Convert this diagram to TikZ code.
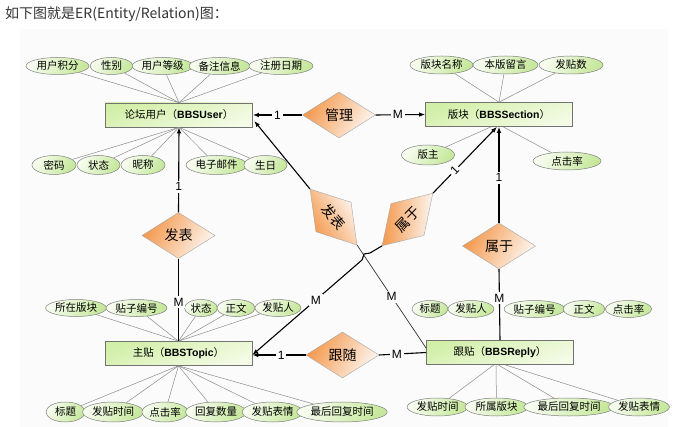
\documentclass[tikz,border=0pt]{standalone}
\usepackage{fontspec}
\setmainfont{Noto Sans CJK SC}
\newfontfamily\latinfont{Liberation Sans}
\usetikzlibrary{shapes.geometric,arrows.meta,calc}
\definecolor{bgc}{HTML}{FBFBFB}
\definecolor{entTop}{HTML}{D2EFA8}
\definecolor{entBot}{HTML}{F4FBE6}
\definecolor{attTop}{HTML}{F6FCEE}
\definecolor{attBot}{HTML}{C6E89C}
\definecolor{orA}{HTML}{F4984C}
\definecolor{orB}{HTML}{FDF6F0}
\newcommand{\enb}[1]{{\latinfont\bfseries #1}}
\begin{document}
\begin{tikzpicture}[x=1pt,y=-1pt,
  entity/.style={rectangle,draw=black!55,line width=0.6pt,minimum width=147pt,minimum height=24pt,inner sep=0pt,
    top color=entTop,bottom color=entBot,shading angle=20,font=\fontsize{10.5}{12}\selectfont},
  relbox/.style={diamond,draw=black!35,line width=0.4pt,minimum width=73pt,minimum height=46pt,inner sep=0pt,
    top color=orA,bottom color=orB,shading angle=60,font=\fontsize{14}{16}\selectfont},
  attr/.style={ellipse,draw=black!50,line width=0.5pt,minimum height=17pt,inner sep=0.5pt,
    top color=attTop,bottom color=attBot,shading angle=60,font=\fontsize{10.5}{11}\selectfont},
  aline/.style={draw=black!45,line width=0.5pt},
  conn/.style={draw=black,line width=1.1pt},
  thinconn/.style={draw=black!80,line width=0.7pt},
  arr/.style={-{Latex[length=6pt,width=4.5pt]}},
  lbl/.style={fill=bgc,inner sep=1.8pt,font={\latinfont\fontsize{12}{13}\selectfont}}
]
\useasboundingbox (0,0) rectangle (676,427);
\fill[bgc] (20,29) rectangle (668,427);
\node[anchor=west,text=black!80,font=\fontsize{14}{16}\selectfont,inner sep=0pt] (title) at (5,14) {如下图就是ER(Entity/Relation)图：};

% entities
\node[entity] (user) at (179,115) {论坛用户（\enb{BBSUser}）};
\node[entity] (section) at (499,114.5) {版块（\enb{BBSSection}）};
\node[entity] (topic) at (178.5,353.5) {主贴（\enb{BBSTopic}）};
\node[entity] (reply) at (500,352.5) {跟贴（\enb{BBSReply}）};

% relationships
\node[relbox] (guanli) at (339,115) {管理};
\node[relbox] (fabiao1) at (178.5,235.5) {发表};
\node[relbox] (shuyu1) at (499,246) {属于};
\node[relbox] (gensui) at (342.5,355) {跟随};
\node[relbox,rotate=-50,shading angle=120] (fabiao2) at (333.5,217) {发表};
\node[relbox,rotate=46,shading angle=89] (shuyu2) at (407.5,219.5) {属于};

% attributes of BBSUser
\node[attr,minimum width=63pt] (u1) at (57.5,66) {用户积分};
\node[attr,minimum width=43pt] (u2) at (111.5,66) {性别};
\node[attr,minimum width=55pt] (u3) at (162.5,66) {用户等级};
\node[attr,minimum width=57pt] (u4) at (219.5,66) {备注信息};
\node[attr,minimum width=64pt] (u5) at (281,66) {注册日期};
\node[attr,minimum width=44pt,minimum height=19pt] (u6) at (54,165) {密码};
\node[attr,minimum width=43pt,minimum height=19pt] (u7) at (98.5,165) {状态};
\node[attr,minimum width=44pt,minimum height=19pt] (u8) at (143,165) {昵称};
\node[attr,minimum width=53pt,minimum height=19pt] (u9) at (216.5,165) {电子邮件};
\node[attr,minimum width=43pt,minimum height=19pt] (u10) at (265.5,165) {生日};

% attributes of BBSSection
\node[attr,minimum width=63pt,minimum height=18pt] (s1) at (441.5,65) {版块名称};
\node[attr,minimum width=65pt,minimum height=18pt] (s2) at (505.5,65) {本版留言};
\node[attr,minimum width=64pt,minimum height=18pt] (s3) at (571,65) {发贴数};
\node[attr,minimum width=53pt,minimum height=20pt] (s4) at (428,155) {版主};
\node[attr,minimum width=68pt,minimum height=18pt] (s5) at (567,161) {点击率};

% attributes of BBSTopic
\node[attr,minimum width=58pt] (t1) at (76,308) {所在版块};
\node[attr,minimum width=61pt] (t2) at (136.5,308) {贴子编号};
\node[attr,minimum width=33pt] (t3) at (201,308) {状态};
\node[attr,minimum width=38pt] (t4) at (236,308) {正文};
\node[attr,minimum width=44pt] (t5) at (278,308) {发贴人};
\node[attr,minimum width=39pt,minimum height=20pt] (t6) at (65.5,412) {标题};
\node[attr,minimum width=54pt,minimum height=20pt] (t7) at (113,412) {发贴时间};
\node[attr,minimum width=46pt,minimum height=20pt] (t8) at (165,412) {点击率};
\node[attr,minimum width=54pt,minimum height=20pt] (t9) at (216,412) {回复数量};
\node[attr,minimum width=55pt,minimum height=20pt] (t10) at (272.5,412) {发贴表情};
\node[attr,minimum width=80pt,minimum height=20pt] (t11) at (342,412) {最后回复时间};

% attributes of BBSReply
\node[attr,minimum width=36pt] (r1) at (430,309) {标题};
\node[attr,minimum width=44pt] (r2) at (471,309) {发贴人};
\node[attr,minimum width=57pt] (r3) at (534.5,309) {贴子编号};
\node[attr,minimum width=42pt] (r4) at (584,309) {正文};
\node[attr,minimum width=45pt] (r5) at (628.5,309) {点击率};
\node[attr,minimum width=55pt,minimum height=18pt] (r6) at (437.5,407) {发贴时间};
\node[attr,minimum width=63pt,minimum height=18pt] (r7) at (496.5,407) {所属版块};
\node[attr,minimum width=82pt,minimum height=18pt] (r8) at (569,407) {最后回复时间};
\node[attr,minimum width=58pt,minimum height=18pt] (r9) at (639,407) {发贴表情};

% attribute lines
\foreach \n in {u1,u2,u3,u4,u5} \draw[aline] (user.north) -- (\n);
\foreach \n in {u6,u7,u8,u9,u10} \draw[aline] (user.south) -- (\n);
\foreach \n in {s1,s2,s3} \draw[aline] (section.north) -- (\n);
\draw[aline] ($(section.south)+(-8,0)$) -- (s4);
\draw[aline] ($(section.south)+(4,0)$) -- (s5);
\foreach \n in {t1,t2,t3,t4,t5} \draw[aline] (topic.north) -- (\n);
\foreach \n in {t6,t7,t8,t9,t10,t11} \draw[aline] (topic.south) -- (\n);
\draw[aline] ($(reply.south)+(-6,0)$) -- (r6);
\draw[aline] ($(reply.south)+(-4,0)$) -- (r7);
\draw[aline] ($(reply.south)+(-2,0)$) -- (r8);
\draw[aline] ($(reply.south)+(5,0)$) -- (r9);

% relationship connectors
\draw[conn,arr] (guanli.west) -- node[lbl,pos=0.5]{1} (user.east);
\draw[conn,arr] (guanli.east) -- node[lbl,pos=0.45]{M} (section.west);
\draw[conn,arr] (fabiao1.north) -- node[lbl,pos=0.30]{1} (user.south);
\draw[conn] (fabiao1.south) -- node[lbl,pos=0.53]{M} (topic.north);
\draw[conn,arr] (shuyu1.north) -- node[lbl,pos=0.47]{1} (section.south);
\draw[conn] (shuyu1.south) -- node[lbl,pos=0.41]{M} (reply.north);
\draw[conn,arr] (gensui.west) -- node[lbl,pos=0.46]{1} ($(topic.east)+(0,1.5)$);
\draw[conn] (gensui.east) -- node[lbl,pos=0.375]{M} (reply.west);

\coordinate (uarr) at ($(user.east)+(1.5,6)$);
\coordinate (rin) at ($(reply.north west)+(0,8)$);
\coordinate (sarr) at ($(section.south)+(-2,0)$);
\coordinate (tin) at ($(topic.east)+(0,1.5)$);
\coordinate (j1) at (370,253);
\coordinate (j2) at (364,254);
\coordinate (j3) at (362,260);

\draw[conn,arr] (fabiao2.west) -- (uarr);
\draw[thinconn] (fabiao2.east) -- node[lbl,pos=0.5]{M} (rin);
\draw[conn,arr] (shuyu2.east) -- node[lbl,sloped,pos=0.34]{1} (sarr);
\draw[conn,arr] (shuyu2.west) -- (j1) -- (j2) -- (j3) -- node[lbl,pos=0.42]{M} (tin);
\end{tikzpicture}
\end{document}
